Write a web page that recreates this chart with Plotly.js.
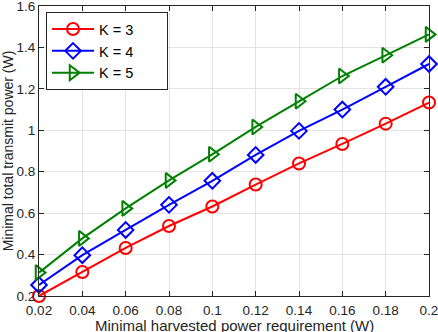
<!DOCTYPE html>
<html>
<head>
<meta charset="utf-8">
<script src="https://cdn.plot.ly/plotly-3.0.1.min.js"></script>
<style>html,body{margin:0;padding:0;background:#fff;}#chart{width:438px;height:332px;}</style>
</head>
<body>
<div id="chart"></div>
<script>
const xValues = [0.02, 0.04, 0.06, 0.08, 0.10, 0.12, 0.14, 0.16, 0.18, 0.20];
const k3 = [0.200, 0.316, 0.432, 0.538, 0.632, 0.738, 0.840, 0.934, 1.032, 1.134];
const k4 = [0.253, 0.397, 0.519, 0.640, 0.756, 0.881, 0.997, 1.100, 1.210, 1.320];
const k5 = [0.313, 0.478, 0.623, 0.758, 0.884, 1.016, 1.140, 1.262, 1.362, 1.463];
const seriesNames = ['K = 3', 'K = 4', 'K = 5'];
const xTickVals = [0.02, 0.04, 0.06, 0.08, 0.10, 0.12, 0.14, 0.16, 0.18, 0.20];
const xTickText = ['0.02', '0.04', '0.06', '0.08', '0.1', '0.12', '0.14', '0.16', '0.18', '0.2'];
const yTickVals = [0.2, 0.4, 0.6, 0.8, 1.0, 1.2, 1.4, 1.6];
const yTickText = ['0.2', '0.4', '0.6', '0.8', '1', '1.2', '1.4', '1.6'];
const xTitle = 'Minimal harvested power requirement (W)';
const yTitle = 'Minimal total transmit power (W)';

const colors = ['#ff0000', '#0000ff', '#008000'];
const symbols = ['circle-open', 'diamond-open', 'triangle-right-open'];
const ys = [k3, k4, k5];
const FONT = 'Liberation Sans, Arial, sans-serif';

const traces = ys.map((y, i) => ({
  x: xValues, y: y, name: seriesNames[i] + '\u00a0\u00a0\u00a0\u00a0\u00a0\u00a0\u00a0', type: 'scatter', mode: 'lines+markers',
  cliponaxis: false,
  line: {color: colors[i], width: 2},
  marker: {symbol: symbols[i], size: i === 2 ? 13 : 12, color: colors[i], line: {width: 2, color: colors[i]}}
}));

const axisCommon = {
  showline: true, mirror: 'ticks', linecolor: '#262626', linewidth: 1,
  ticks: 'inside', ticklen: 5, tickcolor: '#262626',
  showgrid: true, gridcolor: '#e3e3e3', gridwidth: 1, zeroline: false,
  ticklabeloverflow: 'allow',
  tickfont: {family: FONT, size: 13.5, color: '#262626'}
};

const layout = {
  width: 438, height: 332,
  margin: {l: 39, r: 9, t: 6, b: 36},
  paper_bgcolor: '#ffffff', plot_bgcolor: '#ffffff',
  font: {family: FONT, size: 13.5, color: '#262626'},
  showlegend: true,
  legend: {x: 0.018, y: 0.979, xanchor: 'left', yanchor: 'top', bgcolor: '#ffffff',
    bordercolor: '#262626', borderwidth: 1, tracegroupgap: 0, itemwidth: 42,
    font: {family: FONT, size: 14.5, color: '#000000'}},
  xaxis: Object.assign({}, axisCommon, {
    range: [0.02, 0.2], tickmode: 'array', tickvals: xTickVals, ticktext: xTickText,
    automargin: false, ticklabelstandoff: 2
  }),
  yaxis: Object.assign({}, axisCommon, {
    range: [0.2, 1.6], tickmode: 'array', tickvals: yTickVals, ticktext: yTickText,
    automargin: false,
    title: {text: yTitle, standoff: 4,
      font: {family: FONT, size: 14, color: '#262626'}}
  }),
  annotations: [{
    text: xTitle, xref: 'paper', yref: 'paper', x: 0.5, y: -0.103,
    xanchor: 'center', yanchor: 'middle', showarrow: false,
    font: {family: FONT, size: 15, color: '#262626'}
  }]
};

function tweakLegend() {
  const gd = document.getElementById('chart');
  gd.querySelectorAll('.legend path.js-line').forEach(p => p.setAttribute('d', 'M5,0h42'));
  gd.querySelectorAll('.legendpoints path').forEach(p => p.setAttribute('transform', 'translate(26,0)'));
}

Plotly.newPlot('chart', traces, layout, {staticPlot: true, displayModeBar: false}).then(tweakLegend);
</script>
</body>
</html>
